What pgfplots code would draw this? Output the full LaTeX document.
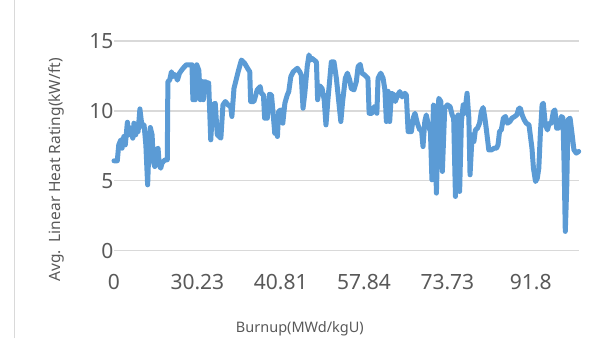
\documentclass[border=0pt]{standalone}
\usepackage{pgfplots}
\pgfplotsset{compat=1.18}
\usepackage{fontspec}
\setmainfont{Noto Sans}
\definecolor{lineblue}{RGB}{91,155,213}
\definecolor{txtgray}{RGB}{89,89,89}
\definecolor{gridgray}{RGB}{217,217,217}
\begin{document}
\begin{tikzpicture}[x=1pt,y=1pt]
\useasboundingbox (0,0) rectangle (614,338);
\draw[gridgray, line width=1pt] (14,0) -- (14,338);
\begin{axis}[
  at={(114pt,87.3pt)}, anchor=south west,
  scale only axis, width=464.7pt, height=209.7pt,
  xmin=0, xmax=156.1, ymin=0, ymax=15,
  axis line style={draw=none},
  major tick length=0pt,
  ymajorgrids, grid style={gridgray, line width=1.2pt},
  ytick={0,5,10,15},
  xtick={0,28,56,84,112,140},
  xticklabels={0,30.23,40.81,57.84,73.73,91.8},
  /pgf/number format/assume math mode=true,
  tick label style={font=\fontsize{21}{24}\selectfont, text=txtgray},
  xticklabel style={anchor=north, yshift=-20pt},
  yticklabel style={anchor=east, xshift=3pt},
  xlabel={Burnup(MWd/kgU)},
  ylabel={Avg.\ \ Linear Heat Rating(kW/ft)},
  xlabel style={font=\fontsize{14.5}{17}\selectfont, text=txtgray, at={(rel axis cs:0.40,-0.37)}, anchor=center},
  ylabel style={font=\fontsize{15.5}{18}\selectfont, text=txtgray, at={(rel axis cs:-0.123,0.385)}, anchor=center, rotate=0},
  clip=false,
]
\addplot[lineblue, line width=5pt, line join=round, line cap=round] table {
x y
0 6.43
1.1 6.43
1.6 7.57
2.3 7.93
2.7 7.33
3.3 8.17
3.8 7.57
4.5 9.19
5.0 8.29
5.6 8.76
6.3 8.05
6.7 9.12
7.3 8.29
7.7 9.05
8.1 8.52
8.7 10.14
9.2 9.24
9.6 8.88
10.1 9.0
10.7 7.57
11.3 4.71
11.8 7.81
12.2 8.81
12.8 8.29
13.2 6.38
13.7 6.02
14.2 7.21
14.8 7.33
15.2 6.14
15.7 5.9
16.1 6.26
16.6 6.38
17.2 6.5
17.9 6.5
18.1 12.1
18.7 12.2
19.3 12.8
19.8 12.45
20.4 12.6
20.9 12.45
21.3 12.2
22.0 12.7
23.2 13.05
24.3 13.3
25.8 13.3
26.2 13.3
26.5 10.8
27.3 10.8
27.8 13.3
28.5 12.9
29.0 10.8
29.6 12.1
30.0 10.8
30.5 12.1
31.3 12.0
31.8 12.0
32.5 7.93
33.2 10.43
34.0 10.55
34.7 8.29
35.9 8.05
36.6 10.43
37.4 10.67
38.3 10.43
39.2 10.3
39.6 9.6
40.3 11.6
41.7 12.8
42.8 13.64
43.9 13.4
45.0 13.0
45.6 12.8
45.9 10.67
47.0 10.67
48.1 11.5
49.1 11.74
49.5 11.26
50.2 11.14
50.6 9.48
51.5 9.48
52.2 11.19
52.9 11.14
53.5 9.71
54.0 8.4
54.4 9.24
54.9 8.17
55.3 9.95
56.0 10.07
56.7 9.12
57.4 10.55
58.2 11.14
58.7 11.38
59.4 12.45
60.2 12.8
61.6 13.05
62.4 12.8
62.9 12.57
63.5 10.19
64.1 11.26
64.9 13.17
65.5 14.0
66.1 13.64
66.5 13.76
67.2 13.64
68.0 13.5
68.4 10.8
69.1 11.8
69.9 11.6
70.6 10.8
71.2 9.0
71.9 10.9
73.0 13.5
73.9 13.5
74.7 12.33
75.5 10.67
76.2 9.24
76.8 10.67
77.7 12.33
78.4 12.7
79.2 12.2
79.7 11.6
80.6 11.5
81.4 12.1
82.0 13.17
82.7 13.33
83.3 12.7
84.2 12.57
85.3 12.33
85.7 9.83
86.7 9.83
87.4 10.3
87.8 10.2
88.3 9.83
88.7 12.33
89.6 12.7
90.4 12.33
91.0 11.5
91.5 9.24
92.1 11.4
92.6 9.24
93.2 11.26
94.1 11.14
94.5 10.67
95.2 11.1
96.0 11.38
96.8 11.0
97.7 11.26
98.2 11.14
98.8 8.52
99.9 8.52
100.5 9.48
101.1 9.83
101.9 9.12
102.7 8.64
103.3 8.64
103.8 7.45
104.4 9.24
104.9 9.71
105.7 8.88
106.3 8.52
106.8 5.07
107.3 10.43
107.7 10.3
108.3 4.12
109.1 10.9
109.8 10.67
110.3 5.67
111.1 10.19
112.0 10.43
112.9 10.3
113.6 9.71
114.1 9.48
114.7 3.88
115.2 9.48
115.6 9.71
116.1 4.24
116.7 9.24
117.3 10.43
117.8 9.83
118.6 11.26
119.2 9.48
119.6 5.43
120.3 8.29
120.9 7.81
121.4 8.64
122.1 8.76
122.8 9.12
123.4 9.95
124.0 10.24
124.6 9.48
125.1 8.64
125.9 7.21
126.8 7.21
127.7 7.33
128.5 7.33
129.0 7.57
129.5 8.52
130.1 8.64
130.8 9.48
131.5 9.6
132.2 9.12
133.0 9.24
133.7 9.48
134.6 9.6
135.3 9.71
136.0 10.19
136.5 10.19
137.1 9.71
137.8 9.36
138.5 9.12
139.4 9.0
140.4 7.33
140.9 5.9
141.6 4.95
142.2 5.19
142.7 5.9
143.2 8.29
143.8 10.43
144.2 10.55
144.9 9.0
145.6 8.64
146.2 9.12
146.9 9.12
147.6 9.95
148.1 10.07
148.7 8.76
149.4 8.76
149.9 9.24
150.3 9.6
150.8 9.5
151.2 6.14
151.6 1.38
152.1 4.71
152.5 9.36
153.2 9.48
153.9 8.29
154.5 7.21
155.3 6.98
156.1 7.1
};
\end{axis}
\end{tikzpicture}
\end{document}
